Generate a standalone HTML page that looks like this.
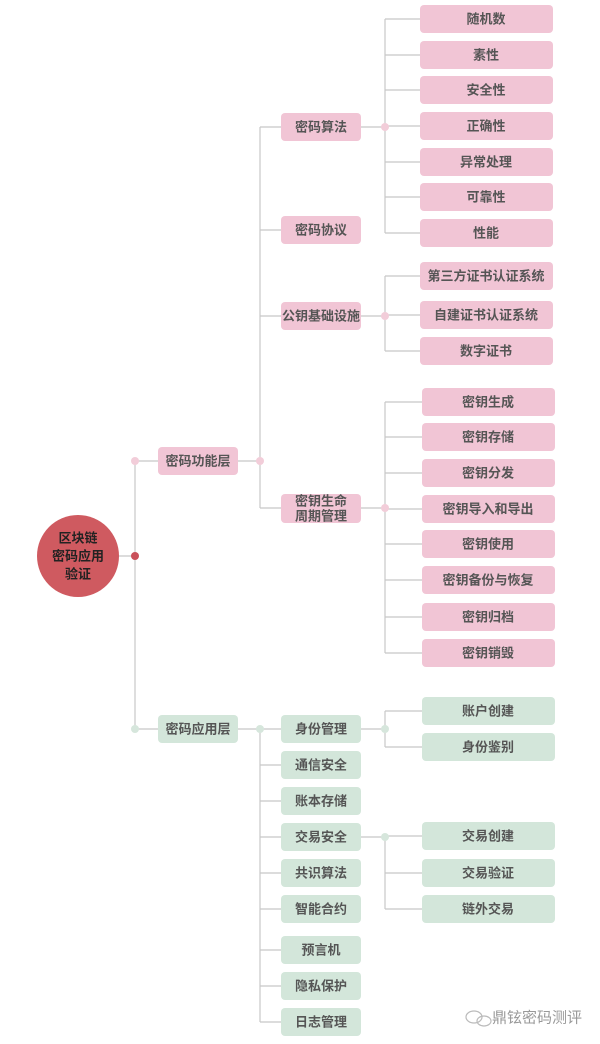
<!DOCTYPE html>
<html><head><meta charset="utf-8"><style>
html,body{margin:0;padding:0;background:#fff;width:600px;height:1044px;overflow:hidden}
svg text{font-family:"Liberation Sans","Noto Sans CJK SC",sans-serif;font-weight:bold;font-size:13px;fill:#555;text-anchor:middle;dominant-baseline:central}
</style></head><body>
<svg width="600" height="1044" viewBox="0 0 600 1044" xmlns="http://www.w3.org/2000/svg">
<g stroke="#c8c8c8" stroke-width="1.2" fill="none">
<path d="M135 461V729M119 556H135M135 461H158M135 729H158"/>
<path d="M238 461H260M260 127V508M260 127H281M260 230H281M260 316H281M260 508H281"/>
<path d="M238 729H260M260 729V1022M260 765H281M260 801H281M260 837H281M260 873H281M260 909H281M260 950H281M260 986H281M260 1022H281M260 729H281"/>
<path d="M361 127H385M385 19V233M385 19H420M385 55H420M385 90H420M385 126H420M385 162H420M385 197H420M385 233H420"/>
<path d="M361 316H385M385 276V351M385 276H420M385 315H420M385 351H420"/>
<path d="M361 508H385M385 402V653M385 402H422M385 437H422M385 473H422M385 509H422M385 544H422M385 580H422M385 617H422M385 653H422"/>
<path d="M361 729H385M385 711V747M385 711H422M385 747H422"/>
<path d="M361 837H385M385 836V909M385 836H422M385 873H422M385 909H422"/>
</g>
<circle cx="78" cy="556" r="41" fill="#cf5a60"/>
<text x="78" y="538" style="fill:#222">区块链</text>
<text x="78" y="556" style="fill:#222">密码应用</text>
<text x="78" y="574" style="fill:#222">验证</text>
<circle cx="135" cy="556" r="4" fill="#c9505a"/>
<circle cx="135" cy="461" r="4" fill="#f2cdd9"/>
<circle cx="135" cy="729" r="4" fill="#d6e6dc"/>
<circle cx="260" cy="461" r="4" fill="#f2cdd9"/>
<circle cx="260" cy="729" r="4" fill="#d6e6dc"/>
<circle cx="385" cy="127" r="4" fill="#f2cdd9"/>
<circle cx="385" cy="316" r="4" fill="#f2cdd9"/>
<circle cx="385" cy="508" r="4" fill="#f2cdd9"/>
<circle cx="385" cy="729" r="4" fill="#d6e6dc"/>
<circle cx="385" cy="837" r="4" fill="#d6e6dc"/>
<g fill="#f1c5d5">
<rect x="158" y="447" width="80" height="28" rx="4"/>
<rect x="281" y="113" width="80" height="28" rx="4"/>
<rect x="281" y="216" width="80" height="28" rx="4"/>
<rect x="281" y="302" width="80" height="28" rx="4"/>
<rect x="281" y="494" width="80" height="29" rx="4"/>
<rect x="420" y="5" width="133" height="28" rx="4"/>
<rect x="420" y="41" width="133" height="28" rx="4"/>
<rect x="420" y="76" width="133" height="28" rx="4"/>
<rect x="420" y="112" width="133" height="28" rx="4"/>
<rect x="420" y="148" width="133" height="28" rx="4"/>
<rect x="420" y="183" width="133" height="28" rx="4"/>
<rect x="420" y="219" width="133" height="28" rx="4"/>
<rect x="420" y="262" width="133" height="28" rx="4"/>
<rect x="420" y="301" width="133" height="28" rx="4"/>
<rect x="420" y="337" width="133" height="28" rx="4"/>
<rect x="422" y="388" width="133" height="28" rx="4"/>
<rect x="422" y="423" width="133" height="28" rx="4"/>
<rect x="422" y="459" width="133" height="28" rx="4"/>
<rect x="422" y="495" width="133" height="28" rx="4"/>
<rect x="422" y="530" width="133" height="28" rx="4"/>
<rect x="422" y="566" width="133" height="28" rx="4"/>
<rect x="422" y="603" width="133" height="28" rx="4"/>
<rect x="422" y="639" width="133" height="28" rx="4"/>
</g>
<g fill="#d3e6da">
<rect x="158" y="715" width="80" height="28" rx="4"/>
<rect x="281" y="715" width="80" height="28" rx="4"/>
<rect x="281" y="751" width="80" height="28" rx="4"/>
<rect x="281" y="787" width="80" height="28" rx="4"/>
<rect x="281" y="823" width="80" height="28" rx="4"/>
<rect x="281" y="859" width="80" height="28" rx="4"/>
<rect x="281" y="895" width="80" height="28" rx="4"/>
<rect x="281" y="936" width="80" height="28" rx="4"/>
<rect x="281" y="972" width="80" height="28" rx="4"/>
<rect x="281" y="1008" width="80" height="28" rx="4"/>
<rect x="422" y="697" width="133" height="28" rx="4"/>
<rect x="422" y="733" width="133" height="28" rx="4"/>
<rect x="422" y="822" width="133" height="28" rx="4"/>
<rect x="422" y="859" width="133" height="28" rx="4"/>
<rect x="422" y="895" width="133" height="28" rx="4"/>
</g>
<text x="198" y="461">密码功能层</text>
<text x="321" y="127">密码算法</text>
<text x="321" y="230">密码协议</text>
<text x="321" y="316">公钥基础设施</text>
<text x="321" y="501">密钥生命</text>
<text x="321" y="516">周期管理</text>
<text x="486" y="19">随机数</text>
<text x="486" y="55">素性</text>
<text x="486" y="90">安全性</text>
<text x="486" y="126">正确性</text>
<text x="486" y="162">异常处理</text>
<text x="486" y="197">可靠性</text>
<text x="486" y="233">性能</text>
<text x="486" y="276">第三方证书认证系统</text>
<text x="486" y="315">自建证书认证系统</text>
<text x="486" y="351">数字证书</text>
<text x="488" y="402">密钥生成</text>
<text x="488" y="437">密钥存储</text>
<text x="488" y="473">密钥分发</text>
<text x="488" y="509">密钥导入和导出</text>
<text x="488" y="544">密钥使用</text>
<text x="488" y="580">密钥备份与恢复</text>
<text x="488" y="617">密钥归档</text>
<text x="488" y="653">密钥销毁</text>
<text x="198" y="729">密码应用层</text>
<text x="321" y="729">身份管理</text>
<text x="321" y="765">通信安全</text>
<text x="321" y="801">账本存储</text>
<text x="321" y="837">交易安全</text>
<text x="321" y="873">共识算法</text>
<text x="321" y="909">智能合约</text>
<text x="321" y="950">预言机</text>
<text x="321" y="986">隐私保护</text>
<text x="321" y="1022">日志管理</text>
<text x="488" y="711">账户创建</text>
<text x="488" y="747">身份鉴别</text>
<text x="488" y="836">交易创建</text>
<text x="488" y="873">交易验证</text>
<text x="488" y="909">链外交易</text>
<g fill="none" stroke="#bbb" stroke-width="1.2">
<ellipse cx="474" cy="1017" rx="8" ry="6"/>
<ellipse cx="484" cy="1021" rx="7" ry="5"/>
</g>
<text x="537" y="1018" style="font-weight:normal;font-size:15px;fill:#999">鼎铉密码测评</text>
</svg>
</body></html>
